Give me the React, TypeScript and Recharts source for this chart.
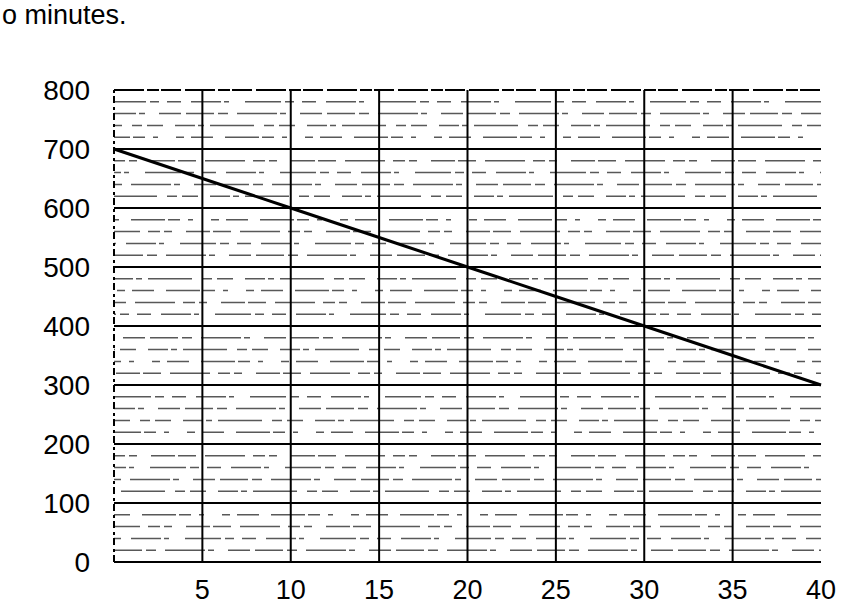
import { LineChart, Line, XAxis, YAxis, ReferenceLine } from 'recharts';

// minutes on the x axis, value on the y axis
const minutes = [0, 5, 10, 15, 20, 25, 30, 35, 40];
const amounts = [700, 650, 600, 550, 500, 450, 400, 350, 300];

const xTicks = [5, 10, 15, 20, 25, 30, 35, 40];
const yTicks = [0, 100, 200, 300, 400, 500, 600, 700, 800];
const majorX = [5, 10, 15, 20, 25, 30, 35];
const majorY = [100, 200, 300, 400, 500, 600, 700, 800];
const minorY = [
  20, 40, 60, 80, 120, 140, 160, 180, 220, 240, 260, 280, 320, 340, 360, 380,
  420, 440, 460, 480, 520, 540, 560, 580, 620, 640, 660, 680, 720, 740, 760, 780,
];

const data = minutes.map((m, i) => ({ m, v: amounts[i] }));

// broken dash patterns to look like the scanned grid
const dashes = [
  '28 4 10 9 40 3 6 14 22 5',
  '14 10 30 3 5 16 36 4 9 8',
  '40 8 12 4 8 14 24 3 18 9',
  '8 7 22 12 34 3 12 8 5 18',
  '20 3 6 6 44 10 10 5 16 12',
];

const FONT = '"Liberation Sans", Arial, sans-serif';

export default function App() {
  return (
    <div style={{ position: 'absolute', left: 0, top: 0, width: 857, height: 608, background: '#fff', overflow: 'hidden' }}>
      <svg width={857} height={40} style={{ position: 'absolute', left: 0, top: 0 }}>
        <text x={2} y={24} fontSize={27} fontFamily={FONT} fill="#000">o minutes.</text>
      </svg>
      <div style={{ position: 'absolute', left: 0, top: 0 }}>
        <LineChart width={857} height={608} data={data} margin={{ top: 90, right: 36, bottom: 0, left: 0 }}>
          <XAxis
            dataKey="m"
            type="number"
            domain={[0, 40]}
            ticks={xTicks}
            interval={0}
            tickLine={false}
            tickSize={0}
            tickMargin={18}
            height={46}
            axisLine={{ stroke: '#000', strokeWidth: 2 }}
            tick={{ fontSize: 27, fill: '#000', fontFamily: FONT }}
          />
          <YAxis
            type="number"
            domain={[0, 800]}
            ticks={yTicks}
            interval={0}
            width={114}
            axisLine={false}
            tickLine={false}
            tickSize={0}
            tickMargin={24}
            tick={{ fontSize: 28, fill: '#000', fontFamily: FONT }}
          />
          {minorY.map((y, i) => (
            <ReferenceLine
              key={`mn-${y}`}
              y={y}
              stroke="#111"
              strokeWidth={1.5}
              strokeOpacity={0.7}
              strokeDasharray={dashes[i % dashes.length]}
              strokeDashoffset={i * 7}
            />
          ))}
          {majorY.map((y) => (
            <ReferenceLine
              key={`my-${y}`}
              y={y}
              stroke="#000"
              strokeWidth={2}
              strokeDasharray={y === 800 ? '30 3 12 2 20 4' : undefined}
            />
          ))}
          {majorX.map((x) => (
            <ReferenceLine key={`mx-${x}`} x={x} stroke="#000" strokeWidth={2} />
          ))}
          <ReferenceLine x={0} stroke="#000" strokeWidth={2} strokeDasharray="7 3 3 4" />
          <Line
            dataKey="v"
            stroke="#000"
            strokeWidth={3}
            dot={false}
            activeDot={false}
            isAnimationActive={false}
          />
        </LineChart>
      </div>
    </div>
  );
}
